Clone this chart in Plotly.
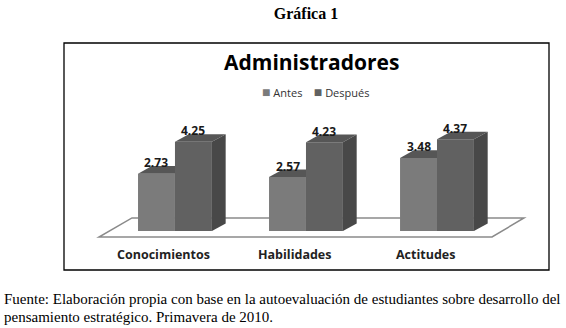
import plotly.graph_objects as go

categories = ["Conocimientos", "Habilidades", "Actitudes"]
antes = [2.73, 2.57, 3.48]
despues = [4.25, 4.23, 4.37]
series_names = ["Antes", "Después"]

c_antes = "#7b7b7b"
c_desp = "#616161"
c_top = "#565656"
c_side = "#484848"

W = 0.282   # bar width (x units)
DX = 0.105  # depth offset x
DY = 0.36   # depth offset y

fig = go.Figure()
xs = list(range(len(categories)))

fig.add_trace(go.Bar(x=[i - W / 2 for i in xs], y=antes, width=W, name=series_names[0],
                     marker=dict(color=c_antes, line=dict(width=0)), showlegend=False))
fig.add_trace(go.Bar(x=[i + W / 2 for i in xs], y=despues, width=W, name=series_names[1],
                     marker=dict(color=c_desp, line=dict(width=0)), showlegend=False))

shapes = []
n = len(categories)
# floor
fl, fr = -0.58, (n - 1) + 0.42
fy0, fy1 = -0.286, 0.62
shapes.append(dict(type="path", xref="x", yref="y", layer="below",
                   path=f"M{fl},{fy0} L{fr},{fy0} L{fr+0.244},{fy1} L{fl+0.252},{fy1} Z",
                   fillcolor="white", line=dict(color="#8a8a8a", width=1.5)))

def P(pts):
    return "M" + " L".join(f"{a},{b}" for a, b in pts) + " Z"

for i, a, d in zip(xs, antes, despues):
    shapes.append(dict(type="path", xref="x", yref="y", layer="above", line=dict(width=0),
                       fillcolor=c_top,
                       path=P([(i - W, a), (i, a), (i, a + DY), (i - W + DX, a + DY)])))
    shapes.append(dict(type="path", xref="x", yref="y", layer="above", line=dict(width=0),
                       fillcolor=c_top,
                       path=P([(i, d), (i + W, d), (i + W + DX, d + DY), (i + DX, d + DY)])))
    shapes.append(dict(type="path", xref="x", yref="y", layer="above", line=dict(width=0),
                       fillcolor=c_side,
                       path=P([(i + W, 0), (i + W + DX, DY), (i + W + DX, d + DY), (i + W, d)])))

# frame
shapes.append(dict(type="rect", xref="paper", yref="paper", x0=0, y0=0, x1=1, y1=1,
                   line=dict(color="black", width=1.3), layer="above"))

annotations = []
lab_font = dict(family="Open Sans", size=12, color="#1a1a1a")
for i, a, d in zip(xs, antes, despues):
    annotations.append(dict(x=i - W / 2, y=a, xref="x", yref="y", text=f"<b>{a:.2f}</b>",
                            showarrow=False, yshift=11, font=lab_font))
    annotations.append(dict(x=i + W / 2, y=d, xref="x", yref="y", text=f"<b>{d:.2f}</b>",
                            showarrow=False, yshift=11, font=lab_font))
for i, c in zip(xs, categories):
    annotations.append(dict(x=i - 0.09, y=-1.14, xref="x", yref="y", text=f"<b>{c}</b>",
                            showarrow=False, font=dict(family="Open Sans", size=12.5, color="#222222")))

annotations.append(dict(x=0.511, y=(270 - 62) / 227, xref="paper", yref="paper",
                        text="<b>Administradores</b>", yanchor="middle", xanchor="center",
                        showarrow=False, font=dict(family="Open Sans", size=21, color="black")))

sq = '<span style="color:{c};font-size:14px">■</span>'
legend_text = (sq.format(c=c_antes) + " " + series_names[0] + "&nbsp;&nbsp;&nbsp;&nbsp;"
               + sq.format(c=c_desp) + " " + series_names[1])
annotations.append(dict(x=(315 - 64) / 485, y=(270 - 91) / 227, xref="paper", yref="paper",
                        text=legend_text, yanchor="middle", xanchor="center", showarrow=False,
                        font=dict(family="Open Sans", size=11, color="#333333")))

fig.update_layout(
    width=566, height=328,
    margin=dict(l=64, r=17, t=43, b=58),
    paper_bgcolor="white", plot_bgcolor="white",
    barmode="overlay",
    showlegend=False,
    xaxis=dict(range=[-0.847, 2.855], visible=False, fixedrange=True),
    yaxis=dict(range=[-1.857, 8.95], visible=False, fixedrange=True),
    shapes=shapes,
    annotations=annotations,
    title=dict(text="<b>Gráfica 1</b>", x=(306) / 566, xanchor="center", xref="container",
               y=1 - 13 / 328, yref="container", yanchor="middle",
               font=dict(family="Liberation Serif, Times New Roman, serif", size=16, color="black")),
)

serif = "Liberation Serif, Times New Roman, serif"
fig.add_annotation(x=-62 / 485, y=-(299 - 270) / 227, xref="paper", yref="paper", xanchor="left",
                   yanchor="middle", align="left", showarrow=False,
                   text="Fuente: Elaboración propia con base en la autoevaluación de estudiantes sobre desarrollo del",
                   font=dict(family=serif, size=15, color="black"))
fig.add_annotation(x=-62 / 485, y=-(317 - 270) / 227, xref="paper", yref="paper", xanchor="left",
                   yanchor="middle", align="left", showarrow=False,
                   text="pensamiento estratégico. Primavera de 2010.",
                   font=dict(family=serif, size=15, color="black"))

fig.write_html("out.html", config={"displayModeBar": False},
               post_script="document.body.style.margin='0';document.body.style.padding='0';")
